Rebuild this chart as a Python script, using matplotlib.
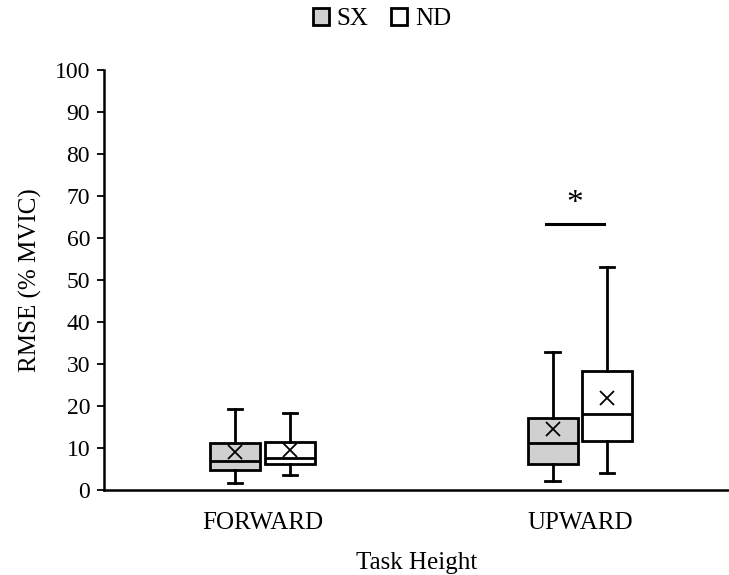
import matplotlib.pyplot as plt
from matplotlib.patches import Patch

plt.rcParams['font.family'] = ['Liberation Serif', 'DejaVu Serif']

# summary stats (% MVIC)
tasks = ["FORWARD", "UPWARD"]
groups = ["SX", "ND"]
whislo = {"SX": [1.7, 2.1], "ND": [3.6, 4.1]}
q1 = {"SX": [4.8, 6.3], "ND": [6.2, 11.7]}
med = {"SX": [6.9, 11.1], "ND": [7.6, 18.1]}
q3 = {"SX": [11.2, 17.1], "ND": [11.5, 28.4]}
whishi = {"SX": [19.3, 32.9], "ND": [18.4, 53.2]}
means = {"SX": [9.0, 14.5], "ND": [9.5, 21.8]}
fills = {"SX": "#d0d0d0", "ND": "white"}

fig = plt.figure(figsize=(7.29, 5.75), dpi=100)
ax = fig.add_axes([104/729, 85/575, 1 - 104/729, 420/575])

offs = {"SX": -0.086, "ND": 0.086}
for g in groups:
    stats = []
    for i in range(len(tasks)):
        stats.append(dict(whislo=whislo[g][i], q1=q1[g][i], med=med[g][i],
                          q3=q3[g][i], whishi=whishi[g][i], mean=means[g][i],
                          fliers=[]))
    pos = [i + 1 + offs[g] for i in range(len(tasks))]
    ax.bxp(stats, positions=pos, widths=0.157, capwidths=0.045,
           showmeans=True, patch_artist=True, manage_ticks=False,
           boxprops=dict(facecolor=fills[g], edgecolor="black", linewidth=2),
           medianprops=dict(color="black", linewidth=2),
           whiskerprops=dict(color="black", linewidth=2),
           capprops=dict(color="black", linewidth=2),
           meanprops=dict(marker="x", markeredgecolor="black", markersize=10,
                          markeredgewidth=1.3))

# significance marker on UPWARD
ax.plot([1.893, 2.075], [63.3, 63.3], color="black", lw=2.2)
ax.text(1.984, 64.5, "*", ha="center", va="bottom", fontsize=24)

ax.set_xlim(0.5, 2.47)
ax.set_ylim(0, 100)
ax.set_yticks(range(0, 101, 10))
ax.set_xticks([1, 2])
ax.set_xticklabels(tasks)
ax.tick_params(axis="x", length=0, labelsize=18, pad=16)
ax.tick_params(axis="y", length=5, width=1.3, labelsize=17, pad=5,
               direction="out")
for s in ["top", "right"]:
    ax.spines[s].set_visible(False)
for s in ["left", "bottom"]:
    ax.spines[s].set_linewidth(1.8)
ax.set_ylabel("RMSE (% MVIC)", fontsize=18, labelpad=9)
ax.set_xlabel("Task Height", fontsize=18, labelpad=13)

handles = [Patch(facecolor=fills[g], edgecolor="black", linewidth=2, label=g)
           for g in groups]
fig.legend(handles=handles, loc="upper center", bbox_to_anchor=(382/729, 1.025),
           ncol=2, frameon=False, fontsize=18, handlelength=0.65,
           handleheight=0.65, handletextpad=0.3, columnspacing=0.9)

fig.savefig("out.png", dpi=100)
